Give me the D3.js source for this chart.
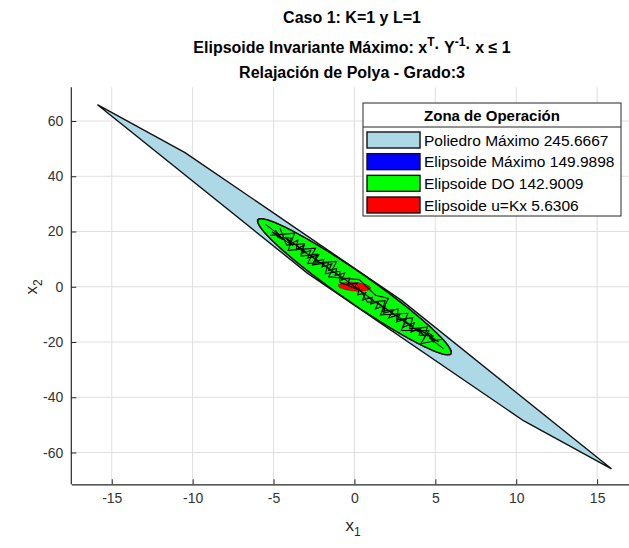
<!DOCTYPE html>
<html><head><meta charset="utf-8">
<script src="https://cdn.jsdelivr.net/npm/d3@7"></script>
<style>body{margin:0;background:#fff}svg{display:block}text{font-family:"Liberation Sans",Arial,sans-serif}</style>
</head><body><svg id="c" width="629" height="548"></svg>
<script>
// ---- data ----
const xTicks = [-15,-10,-5,0,5,10,15];
const yTicks = [-60,-40,-20,0,20,40,60];
const xDomain = [-17.5, 17.5];
const yDomain = [-71.5, 72.2];
const legendTitle = "Zona de Operación";
const legendLabels = ["Poliedro Máximo 245.6667","Elipsoide Máximo 149.9898","Elipsoide DO 142.9009","Elipsoide u=Kx 5.6306"];
const legendColors = ["#ADD8E6","#0000FF","#00FF00","#FF0000"];
// polyhedron vertices (x1,x2)
const polyX = [-15.86,-10.47, 2.91, 15.86, 10.47, -2.91];
const polyY = [ 65.8,  48.58,-4.94,-65.8,-48.58, 4.94];
// ellipse matrices Y = [[a,b],[b,c]]  (x' Y^-1 x <= 1)
const ellMax = [36.0,-142.9,610];
const ellDO  = [35.64,-141.5,604];
const ellK   = [1.0,-0.45,2.6];
// trajectories (hand-read)
const trajA = [[-4.9,20.5],[-4.4,17.0],[-4.8,18.2],[-3.9,17.6],[-4.0,15.3],[-3.5,16.9],[-3.6,13.4],[-3.1,15.2],[-3.3,12.0],[-2.7,13.1],[-2.9,10.4],[-2.2,11.6],[-2.5,9.1],[-1.9,9.9],[-2.0,7.2],[-1.4,8.3],[-1.6,5.9],[-1.1,6.6],[-1.2,4.1],[-0.6,5.0],[-0.8,2.5],[-0.3,3.2],[-0.4,0.9],[0.2,1.4],[0,0]];
const trajB = [[4.9,-20.2],[4.5,-16.6],[4.9,-17.9],[4.0,-17.5],[4.1,-15.0],[3.5,-16.4],[3.7,-13.0],[3.0,-14.7],[3.2,-11.6],[2.6,-12.8],[2.8,-10.0],[2.1,-11.3],[2.4,-8.6],[1.8,-9.6],[1.9,-6.8],[1.3,-8.0],[1.5,-5.4],[1.0,-6.2],[1.1,-3.8],[0.5,-4.8],[0.7,-2.2],[0.2,-2.9],[0.3,-0.6],[0,0]];
const trajC = [[-5.5,22.6],[-4.6,18.6],[-5.1,19.8],[-3.8,14.9],[-4.3,17.9],[-3.0,12.6],[-3.5,14.0],[-2.2,9.3],[-2.8,11.5],[-1.5,6.2],[-2.0,8.4],[-0.9,3.8],[-1.2,5.2],[-0.1,0.6],[0,0]];
const trajD = [[5.5,-22.4],[4.6,-18.4],[5.2,-19.9],[3.9,-15.0],[4.3,-17.6],[3.0,-12.4],[3.6,-14.2],[2.2,-9.1],[2.8,-11.3],[1.5,-6.0],[2.0,-8.2],[0.8,-3.6],[1.2,-5.0],[0.2,-0.8],[0,0]];
const trajE = [[-4.6,21.2],[-4.2,15.1],[-3.1,15.6],[-3.3,11.1],[-2.3,11.8],[-2.6,7.9],[-1.6,8.8],[-1.8,4.7],[-0.9,5.6],[-0.9,1.6],[0.4,-1.4],[0.8,-5.6],[1.9,-5.0],[1.7,-8.9],[2.7,-8.1],[2.6,-12.0],[3.6,-11.2],[3.4,-15.2],[4.5,-14.6],[4.3,-18.8]];
const trajF = [[-5.2,18.6],[-3.7,19.4],[-4.1,13.2],[-2.4,14.0],[-2.9,8.4],[-1.1,9.2],[-1.6,3.6],[0.3,2.6],[1.3,-3.1],[2.1,-4.2],[1.6,-10.2],[3.3,-9.6],[2.9,-15.8],[4.6,-15.9],[4.1,-20.6],[5.4,-19.0]];
const trajs = [trajA,trajB,trajC,trajD,trajE,trajF];

// ---- chart ----
const svg = d3.select("#c");
const L = 71.3, R = L + 35*16.18, T = 87.3, B = 484.3;
const x = d3.scaleLinear().domain(xDomain).range([L,R]);
const y = d3.scaleLinear().domain(yDomain).range([B,T]);
const ax = "#262626";

// grid
svg.append("g").selectAll("line").data(xTicks).join("line")
  .attr("x1",d=>x(d)).attr("x2",d=>x(d)).attr("y1",T).attr("y2",B)
  .attr("stroke","#dfdfdf").attr("stroke-width",1);
svg.append("g").selectAll("line").data(yTicks).join("line")
  .attr("x1",L).attr("x2",R).attr("y1",d=>y(d)).attr("y2",d=>y(d))
  .attr("stroke","#dfdfdf").attr("stroke-width",1);

const plot = svg.append("g");
// polyhedron
plot.append("path")
  .attr("d", d3.line()(polyX.map((v,i)=>[x(v),y(polyY[i])]))+"Z")
  .attr("fill","#ADD8E6").attr("stroke","#111").attr("stroke-width",1.4).attr("stroke-linejoin","round");

function ellPts(m){
  const [a,b,c]=m, l11=Math.sqrt(a), l21=b/l11, l22=Math.sqrt(c-l21*l21);
  return d3.range(0,361,2).map(t=>{const r=t*Math.PI/180, u=Math.cos(r), v=Math.sin(r);
    return [x(l11*u), y(l21*u+l22*v)];});
}
plot.append("path").attr("d",d3.line()(ellPts(ellMax))+"Z").attr("fill","#0000FF").attr("stroke","#111").attr("stroke-width",1.2);
plot.append("path").attr("d",d3.line()(ellPts(ellDO))+"Z").attr("fill","#00FF00").attr("stroke","#111").attr("stroke-width",1.4);
plot.append("path").attr("d",d3.line()(ellPts(ellK))+"Z").attr("fill","#FF0000").attr("stroke","#400").attr("stroke-width",0.4);
trajs.forEach(tr=>{
  plot.append("path").attr("d",d3.line()(tr.map(p=>[x(p[0]),y(p[1])])))
    .attr("fill","none").attr("stroke","#000").attr("stroke-width",1.1);
});

// axes
const xa = svg.append("g").attr("transform",`translate(0,${B})`)
  .call(d3.axisBottom(x).tickValues(xTicks).tickSizeInner(-5).tickSizeOuter(0).tickPadding(9).tickFormat(d=>String(d)));
const ya = svg.append("g").attr("transform",`translate(${L},0)`)
  .call(d3.axisLeft(y).tickValues(yTicks).tickSizeInner(-5).tickSizeOuter(0).tickPadding(8).tickFormat(d=>String(d)));
[xa,ya].forEach(g=>{
  g.select(".domain").attr("stroke",ax).attr("stroke-width",1.2);
  g.selectAll(".tick line").attr("stroke",ax);
  g.selectAll(".tick text").attr("fill","#333").style("font-size","14px").style("font-family","Liberation Sans, Arial, sans-serif");
});
ya.select(".domain").attr("d",`M0,${T}V${B}`);

// axis labels
const xl = svg.append("text").attr("x",353).attr("y",531).attr("text-anchor","middle").attr("fill","#262626").style("font-size","17px");
xl.append("tspan").text("x");
xl.append("tspan").attr("dy",5).style("font-size","12px").text("1");
const yl = svg.append("text").attr("transform","translate(37,287) rotate(-90)").attr("text-anchor","middle").attr("fill","#262626").style("font-size","17px");
yl.append("tspan").text("x");
yl.append("tspan").attr("dy",5).style("font-size","12px").text("2");

// title
const tg = svg.append("g").attr("fill","#000").style("font-weight","bold").style("font-size","16px");
tg.append("text").attr("x",352).attr("y",23).attr("text-anchor","middle").text("Caso 1: K=1 y L=1");
const t2 = tg.append("text").attr("x",352).attr("y",53).attr("text-anchor","middle");
t2.append("tspan").text("Elipsoide Invariante Máximo: x");
t2.append("tspan").attr("dy",-7).style("font-size","12px").text("T");
t2.append("tspan").attr("dy",7).text("· Y");
t2.append("tspan").attr("dy",-7).style("font-size","12px").text("-1");
t2.append("tspan").attr("dy",7).text("· x ≤ 1");
tg.append("text").attr("x",352).attr("y",78).attr("text-anchor","middle").text("Relajación de Polya - Grado:3");

// legend
const lg = svg.append("g");
const lx=363, ly=103, lw=258, lh=113;
lg.append("rect").attr("x",lx).attr("y",ly).attr("width",lw).attr("height",lh).attr("fill","#fff").attr("stroke","#262626").attr("stroke-width",1);
lg.append("line").attr("x1",lx).attr("x2",lx+lw).attr("y1",127).attr("y2",127).attr("stroke","#262626").attr("stroke-width",1);
lg.append("text").attr("x",lx+lw/2).attr("y",121).attr("text-anchor","middle").style("font-weight","bold").style("font-size","15px").attr("fill","#000").text(legendTitle);
const rowY = d3.scalePoint().domain(d3.range(legendLabels.length)).range([140,205]);
legendLabels.forEach((lab,i)=>{
  lg.append("rect").attr("x",367).attr("y",rowY(i)-8).attr("width",53).attr("height",16)
    .attr("fill",legendColors[i]).attr("stroke","#111").attr("stroke-width",1.4);
  lg.append("text").attr("x",424).attr("y",rowY(i)+5.5).style("font-size","15.5px").attr("fill","#000").text(lab);
});
</script></body></html>
